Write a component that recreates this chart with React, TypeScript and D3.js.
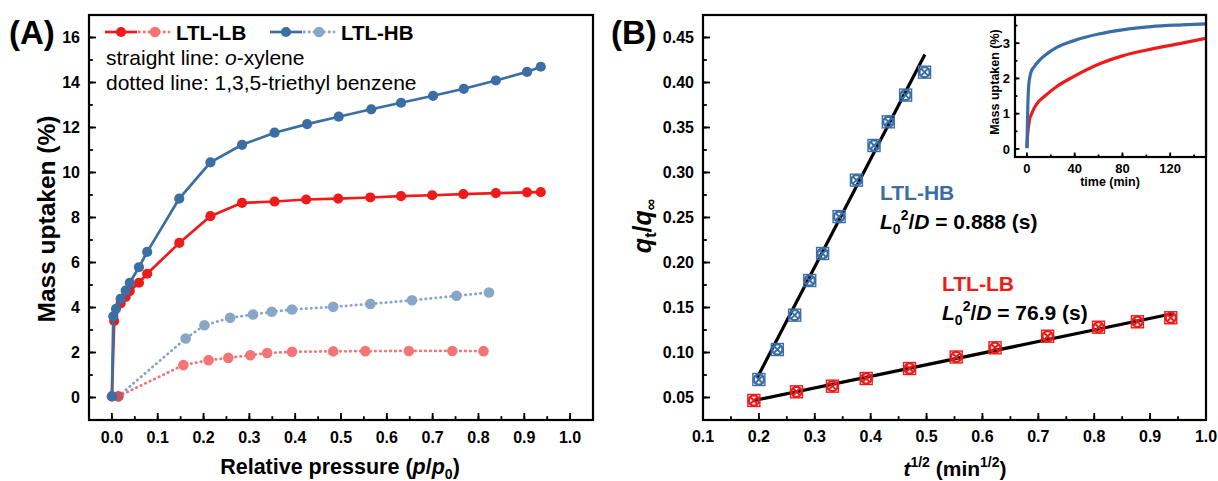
import React from 'react';
import * as d3 from 'd3';

const FONT = "'Liberation Sans', Arial, Helvetica, sans-serif";
const RED = '#ee1b1b';
const BLUE = '#3a6ea5';

// ---------- Panel A: vapour isotherms ----------
const lbXylP = [0.0, 0.005, 0.019, 0.03, 0.039, 0.059, 0.077, 0.147, 0.215, 0.284, 0.355, 0.424, 0.494, 0.564, 0.631, 0.699, 0.767, 0.838, 0.906, 0.936];
const lbXylU = [0.05, 3.4, 4.18, 4.47, 4.73, 5.1, 5.5, 6.87, 8.06, 8.65, 8.71, 8.8, 8.84, 8.89, 8.95, 8.99, 9.04, 9.08, 9.12, 9.13];

const hbXylP = [0.0, 0.003, 0.009, 0.019, 0.03, 0.039, 0.059, 0.077, 0.147, 0.215, 0.284, 0.355, 0.426, 0.495, 0.566, 0.631, 0.701, 0.768, 0.838, 0.906, 0.936];
const hbXylU = [0.05, 3.61, 3.94, 4.38, 4.75, 5.1, 5.79, 6.47, 8.84, 10.45, 11.23, 11.77, 12.15, 12.48, 12.81, 13.1, 13.41, 13.72, 14.09, 14.47, 14.7];

const lbTebP = [0.014, 0.156, 0.211, 0.254, 0.302, 0.339, 0.393, 0.483, 0.553, 0.648, 0.743, 0.811];
const lbTebU = [0.05, 1.44, 1.66, 1.76, 1.88, 1.98, 2.03, 2.05, 2.06, 2.07, 2.07, 2.06];

const hbTebP = [0.014, 0.161, 0.202, 0.258, 0.308, 0.349, 0.393, 0.483, 0.564, 0.655, 0.752, 0.823];
const hbTebU = [0.05, 2.62, 3.21, 3.54, 3.69, 3.81, 3.91, 4.03, 4.16, 4.32, 4.52, 4.67];

const aXTicks = [0, 0.1, 0.2, 0.3, 0.4, 0.5, 0.6, 0.7, 0.8, 0.9, 1.0];
const aYTicks = [0, 2, 4, 6, 8, 10, 12, 14, 16];

// ---------- Panel B: uptake vs sqrt(t) ----------
const hbSqrtT = [0.2, 0.233, 0.264, 0.291, 0.314, 0.3435, 0.3745, 0.406, 0.4316, 0.4625, 0.4964];
const hbFrac = [0.07, 0.1033, 0.1415, 0.18, 0.21, 0.251, 0.2915, 0.33, 0.3563, 0.386, 0.4115];
const lbSqrtT = [0.191, 0.2673, 0.3316, 0.392, 0.4696, 0.553, 0.6225, 0.7166, 0.8077, 0.8773, 0.937];
const lbFrac = [0.0467, 0.0563, 0.0626, 0.0711, 0.0822, 0.095, 0.1052, 0.1181, 0.1281, 0.1341, 0.1386];

// diffusion time constants L0^2/D (s), line intercepts and fitted ranges
const fitL0sqD = [0.888, 76.9];
const fitIntercept = [-0.164, 0.0221];
const fitRange = [[0.197, 0.497], [0.19, 0.94]];

const bXTicks = [0.1, 0.2, 0.3, 0.4, 0.5, 0.6, 0.7, 0.8, 0.9, 1.0];
const bYTicks = [0.05, 0.1, 0.15, 0.2, 0.25, 0.3, 0.35, 0.4, 0.45];

// ---------- Inset: uptake kinetics ----------
const insHbT = [0, 0.3, 0.8, 1.5, 2.5, 3.5, 6, 10, 16, 25, 40, 60, 80, 104, 130, 150];
const insHbU = [0.02, 0.5, 1.3, 1.8, 2.05, 2.19, 2.33, 2.5, 2.68, 2.88, 3.08, 3.26, 3.38, 3.47, 3.52, 3.55];
const insLbT = [0, 0.3, 1, 2, 4, 6, 10, 15, 25, 39, 62, 80, 104, 130, 150];
const insLbU = [0.03, 0.25, 0.55, 0.8, 1.0, 1.15, 1.35, 1.5, 1.77, 2.05, 2.43, 2.64, 2.83, 3.0, 3.14];

const insXTicks = [0, 40, 80, 120];
const insYTicks = [0, 1, 2, 3];

const zip = (xs: number[], ys: number[]) => xs.map((x, i) => [x, ys[i]] as [number, number]);

type Lin = d3.ScaleLinear<number, number>;

const DOTS = '0.4,4.6';

function Frame({ x, y }: { x: Lin; y: Lin }) {
  const [x0, x1] = x.range();
  const [y1, y0] = y.range();
  return <rect x={x0} y={y0} width={x1 - x0} height={y1 - y0} fill="none" stroke="#000" strokeWidth={2.2} />;
}

function BottomAxis({ x, y, ticks, minorStep, fmt, size, len, labelDy }: any) {
  const [y1] = y.range();
  const [d0, d1] = x.domain();
  const minor = d3.range(Math.ceil(d0 / minorStep - 1e-9) * minorStep, d1 + 1e-9, minorStep);
  return (
    <g>
      {minor.map((v: number, i: number) => (
        <line key={'m' + i} x1={x(v)} x2={x(v)} y1={y1} y2={y1 - len * 0.55} stroke="#000" strokeWidth={1.8} />
      ))}
      {ticks.map((v: number, i: number) => (
        <g key={i}>
          <line x1={x(v)} x2={x(v)} y1={y1} y2={y1 - len} stroke="#000" strokeWidth={1.8} />
          <text x={x(v)} y={y1 + labelDy} textAnchor="middle" fontSize={size} fontWeight="bold">{fmt(v)}</text>
        </g>
      ))}
    </g>
  );
}

function LeftAxis({ x, y, ticks, minorStep, fmt, size, len, labelDx }: any) {
  const [x0] = x.range();
  const [d0, d1] = y.domain();
  const minor = d3.range(Math.ceil(d0 / minorStep - 1e-9) * minorStep, d1 + 1e-9, minorStep);
  return (
    <g>
      {minor.map((v: number, i: number) => (
        <line key={'m' + i} x1={x0} x2={x0 + len * 0.55} y1={y(v)} y2={y(v)} stroke="#000" strokeWidth={1.8} />
      ))}
      {ticks.map((v: number, i: number) => (
        <g key={i}>
          <line x1={x0} x2={x0 + len} y1={y(v)} y2={y(v)} stroke="#000" strokeWidth={1.8} />
          <text x={x0 - labelDx} y={y(v)} dy="0.36em" textAnchor="end" fontSize={size} fontWeight="bold">{fmt(v)}</text>
        </g>
      ))}
    </g>
  );
}

function CrossMark({ cx, cy, color }: { cx: number; cy: number; color: string }) {
  return (
    <g transform={`translate(${cx},${cy})`} stroke={color} fill="none">
      <rect x={-6} y={-6} width={12} height={12} strokeWidth={1.4} />
      <circle r={5.1} strokeWidth={2.3} />
      <line x1={-3.5} y1={-3.5} x2={3.5} y2={3.5} strokeWidth={2} />
      <line x1={-3.5} y1={3.5} x2={3.5} y2={-3.5} strokeWidth={2} />
    </g>
  );
}

export default function App() {
  // Panel A scales
  const ax = d3.scaleLinear().domain([-0.05, 1.05]).range([89, 593]);
  const ay = d3.scaleLinear().domain([-1, 17]).range([420, 15]);
  const aLine = d3.line<[number, number]>().x((d) => ax(d[0])).y((d) => ay(d[1]));

  // Panel B scales
  const bx = d3.scaleLinear().domain([0.1, 1.0]).range([703, 1206]);
  const by = d3.scaleLinear().domain([0.025, 0.475]).range([420, 15]);
  const bLine = d3.line<[number, number]>().x((d) => bx(d[0])).y((d) => by(d[1]));

  // Inset scales
  const ix = d3.scaleLinear().domain([-10, 150]).range([1015, 1206]);
  const iy = d3.scaleLinear().domain([-0.23, 3.8]).range([157, 15]);
  const iLine = d3.line<[number, number]>().x((d) => ix(d[0])).y((d) => iy(d[1])).curve(d3.curveMonotoneX);

  const solid = [
    { pts: zip(lbXylP, lbXylU), color: RED },
    { pts: zip(hbXylP, hbXylU), color: BLUE },
  ];
  const dotted = [
    { pts: zip(hbTebP, hbTebU), color: BLUE },
    { pts: zip(lbTebP, lbTebU), color: RED },
  ];

  // Short-time Fickian fit: slope = (2/sqrt(pi)) / sqrt(L0^2/D)
  const fits = fitL0sqD.map((tau, i) => {
    const k = 2 / Math.sqrt(Math.PI) / Math.sqrt(tau);
    const [t0, t1] = fitRange[i];
    return [[t0, fitIntercept[i] + k * t0], [t1, fitIntercept[i] + k * t1]] as [number, number][];
  });

  const fmt1 = d3.format('.1f');
  const fmt2 = d3.format('.2f');
  const fmt0 = d3.format('d');

  return (
    <svg width={1218} height={481} viewBox="0 0 1218 481" style={{ position: 'absolute', left: 0, top: 0, background: '#fff' }} fontFamily={FONT}>
      <rect width={1218} height={481} fill="#fff" />

      {/* ===== Panel A ===== */}
      <text x={9} y={44} fontSize={33} fontWeight="bold">(A)</text>

      {dotted.map((s, i) => (
        <g key={'d' + i} opacity={0.6}>
          <path d={aLine(s.pts) || ''} fill="none" stroke={s.color} strokeWidth={2.8} strokeDasharray={DOTS} strokeLinecap="round" />
          {s.pts.map((p, j) => (
            <circle key={j} cx={ax(p[0])} cy={ay(p[1])} r={5.3} fill={s.color} />
          ))}
        </g>
      ))}
      {solid.map((s, i) => (
        <g key={'s' + i}>
          <path d={aLine(s.pts) || ''} fill="none" stroke={s.color} strokeWidth={2.7} />
          {s.pts.map((p, j) => (
            <circle key={j} cx={ax(p[0])} cy={ay(p[1])} r={5.1} fill={s.color} />
          ))}
        </g>
      ))}

      <BottomAxis x={ax} y={ay} ticks={aXTicks} minorStep={0.05} fmt={fmt1} size={16} len={7} labelDy={23} />
      <LeftAxis x={ax} y={ay} ticks={aYTicks} minorStep={1} fmt={fmt0} size={16} len={7} labelDx={9} />
      <Frame x={ax} y={ay} />

      {/* legend */}
      <g>
        <line x1={105} x2={137} y1={32} y2={32} stroke={RED} strokeWidth={2.7} />
        <circle cx={121} cy={32} r={5.1} fill={RED} />
        <g opacity={0.6}>
          <line x1={139} x2={169} y1={32} y2={32} stroke={RED} strokeWidth={2.8} strokeDasharray={DOTS} strokeLinecap="round" />
          <circle cx={155} cy={32} r={5.3} fill={RED} />
        </g>
        <text x={176} y={39.5} fontSize={20.5} fontWeight="bold">LTL-LB</text>

        <line x1={270} x2={302} y1={32} y2={32} stroke={BLUE} strokeWidth={2.7} />
        <circle cx={286} cy={32} r={5.1} fill={BLUE} />
        <g opacity={0.6}>
          <line x1={304} x2={334} y1={32} y2={32} stroke={BLUE} strokeWidth={2.8} strokeDasharray={DOTS} strokeLinecap="round" />
          <circle cx={319} cy={32} r={5.3} fill={BLUE} />
        </g>
        <text x={341} y={39.5} fontSize={20.5} fontWeight="bold">LTL-HB</text>

        <text x={106} y={65} fontSize={21}>
          straight line: <tspan fontStyle="italic">o</tspan>-xylene
        </text>
        <text x={106} y={90} fontSize={21}>dotted line: 1,3,5-triethyl benzene</text>
      </g>

      <text transform="translate(55,219) rotate(-90)" textAnchor="middle" fontSize={24.5} fontWeight="bold">Mass uptaken (%)</text>
      <text x={340} y={474} textAnchor="middle" fontSize={21.5} fontWeight="bold">
        Relative pressure (<tspan fontStyle="italic">p</tspan>/<tspan fontStyle="italic">p</tspan>
        <tspan fontSize={14} dy={5}>0</tspan>
        <tspan dy={-5}>)</tspan>
      </text>

      {/* ===== Panel B ===== */}
      <text x={611} y={44} fontSize={33} fontWeight="bold">(B)</text>

      {fits.map((f, i) => (
        <path key={'f' + i} d={bLine(f) || ''} fill="none" stroke="#000" strokeWidth={3.2} />
      ))}
      {zip(hbSqrtT, hbFrac).map((p, j) => (
        <CrossMark key={'h' + j} cx={bx(p[0])} cy={by(p[1])} color={BLUE} />
      ))}
      {zip(lbSqrtT, lbFrac).map((p, j) => (
        <CrossMark key={'l' + j} cx={bx(p[0])} cy={by(p[1])} color={RED} />
      ))}

      <BottomAxis x={bx} y={by} ticks={bXTicks} minorStep={0.05} fmt={fmt1} size={16} len={7} labelDy={22} />
      <LeftAxis x={bx} y={by} ticks={bYTicks} minorStep={0.025} fmt={fmt2} size={16} len={7} labelDx={9} />
      <Frame x={bx} y={by} />

      <text x={880} y={200} fontSize={21} fontWeight="bold" fill={BLUE}>LTL-HB</text>
      <text x={880} y={229} fontSize={21} fontWeight="bold">
        <tspan fontStyle="italic">L</tspan>
        <tspan fontSize={14} dy={5}>0</tspan>
        <tspan fontSize={14} dy={-14}>2</tspan>
        <tspan dy={9}>/</tspan>
        <tspan fontStyle="italic">D</tspan>
        <tspan>{` = ${fitL0sqD[0]} (s)`}</tspan>
      </text>
      <text x={942} y={291} fontSize={21} fontWeight="bold" fill={RED}>LTL-LB</text>
      <text x={942} y={320} fontSize={21} fontWeight="bold">
        <tspan fontStyle="italic">L</tspan>
        <tspan fontSize={14} dy={5}>0</tspan>
        <tspan fontSize={14} dy={-14}>2</tspan>
        <tspan dy={9}>/</tspan>
        <tspan fontStyle="italic">D</tspan>
        <tspan>{` = ${fitL0sqD[1]} (s)`}</tspan>
      </text>

      <text transform="translate(651,226) rotate(-90)" textAnchor="middle" fontSize={25} fontWeight="bold">
        <tspan fontStyle="italic">q</tspan>
        <tspan fontSize={16} dy={5}>t</tspan>
        <tspan dy={-5}>/</tspan>
        <tspan fontStyle="italic">q</tspan>
        <tspan fontSize={16} dy={5}>∞</tspan>
      </text>
      <text x={955} y={476} textAnchor="middle" fontSize={21} fontWeight="bold">
        <tspan fontStyle="italic">t</tspan>
        <tspan fontSize={14} dy={-9}>1/2</tspan>
        <tspan dy={9}> (min</tspan>
        <tspan fontSize={14} dy={-9}>1/2</tspan>
        <tspan dy={9}>)</tspan>
      </text>

      {/* ===== Inset ===== */}
      <rect x={1015} y={15} width={191} height={142} fill="#fff" />
      <path d={iLine(zip(insLbT, insLbU)) || ''} fill="none" stroke={RED} strokeWidth={3.2} />
      <path d={iLine(zip(insHbT, insHbU)) || ''} fill="none" stroke={BLUE} strokeWidth={3.2} />
      <BottomAxis x={ix} y={iy} ticks={insXTicks} minorStep={20} fmt={fmt0} size={13} len={4.5} labelDy={16} />
      <LeftAxis x={ix} y={iy} ticks={insYTicks} minorStep={0.5} fmt={fmt0} size={13} len={4.5} labelDx={5} />
      <Frame x={ix} y={iy} />
      <text x={1110} y={186} textAnchor="middle" fontSize={12.5} fontWeight="bold">time (min)</text>
      <text transform="translate(999,82) rotate(-90)" textAnchor="middle" fontSize={12.5} fontWeight="bold">Mass uptaken (%)</text>
    </svg>
  );
}
